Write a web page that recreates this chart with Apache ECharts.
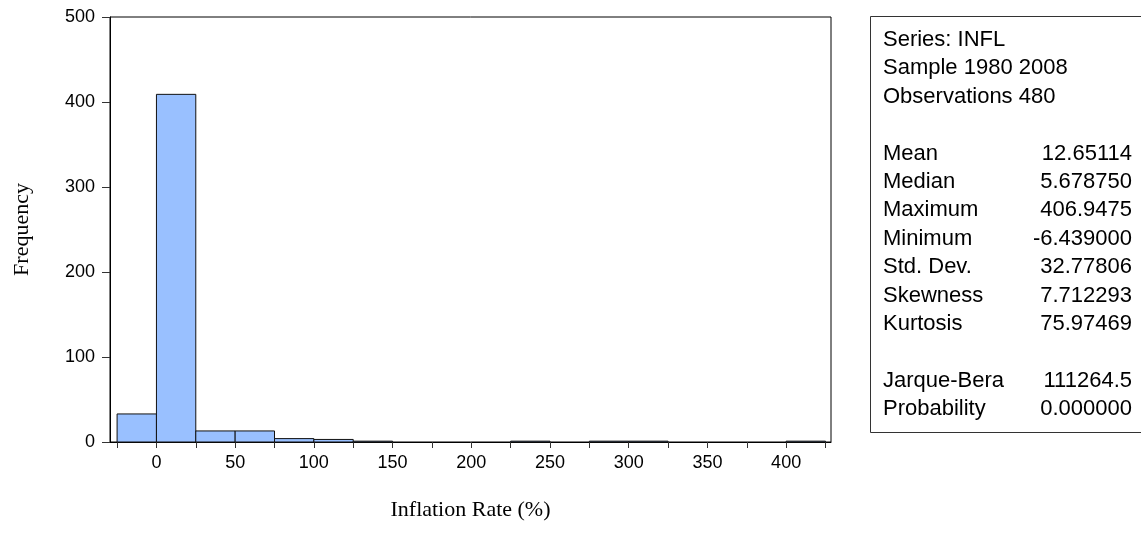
<!DOCTYPE html>
<html><head><meta charset="utf-8">
<script src="https://cdn.jsdelivr.net/npm/echarts@6/dist/echarts.min.js"></script>
<style>html,body{margin:0;padding:0;background:#fff}#c{width:1141px;height:533px}</style>
</head><body><div id="c"></div>
<script>
const binStarts = [-25, 0, 25, 50, 75, 100, 125, 150, 175, 200, 225, 250, 275, 300, 325, 350, 375, 400];
const binWidth = 25;
const counts = [33, 409, 13, 13, 4, 3, 1, 0, 0, 0, 1, 0, 1, 1, 0, 0, 0, 1];
const xTickValues = [-25, 0, 25, 50, 75, 100, 125, 150, 175, 200, 225, 250, 275, 300, 325, 350, 375, 400, 425];
const xLabelValues = [0, 50, 100, 150, 200, 250, 300, 350, 400];
const yTicks = [0, 100, 200, 300, 400, 500];
const headerLines = ['Series: INFL', 'Sample 1980 2008', 'Observations 480'];
const statLabels = ['Mean', 'Median', 'Maximum', 'Minimum', 'Std. Dev.', 'Skewness', 'Kurtosis'];
const statValues = ['12.65114', '5.678750', '406.9475', '-6.439000', '32.77806', '7.712293', '75.97469'];
const testLabels = ['Jarque-Bera', 'Probability'];
const testValues = ['111264.5', '0.000000'];

const data = binStarts.map((s, i) => [s, s + binWidth, counts[i]]);
const chart = echarts.init(document.getElementById('c'), null, {renderer: 'canvas'});
const sans = 'Liberation Sans, Arial, sans-serif';
const serif = 'Liberation Serif, Times New Roman, serif';

const graphics = [];
graphics.push({type: 'rect', shape: {x: 870.5, y: 16.5, width: 290, height: 416}, style: {fill: 'none', stroke: '#333', lineWidth: 1}, z: 10});
const lh = 28.4;
const fs = '22px ' + sans;
let y = 40;
headerLines.forEach(t => { graphics.push({type: 'text', x: 883, y: y, style: {text: t, font: fs, fill: '#000', textVerticalAlign: 'middle'}}); y += lh; });
y = 40 + 4 * lh;
statLabels.forEach((t, i) => {
  graphics.push({type: 'text', x: 883, y: y, style: {text: t, font: fs, fill: '#000', textVerticalAlign: 'middle'}});
  graphics.push({type: 'text', x: 1132, y: y, style: {text: statValues[i], font: fs, fill: '#000', textAlign: 'right', textVerticalAlign: 'middle'}});
  y += lh;
});
y = 40 + 12 * lh;
testLabels.forEach((t, i) => {
  graphics.push({type: 'text', x: 883, y: y, style: {text: t, font: fs, fill: '#000', textVerticalAlign: 'middle'}});
  graphics.push({type: 'text', x: 1132, y: y, style: {text: testValues[i], font: fs, fill: '#000', textAlign: 'right', textVerticalAlign: 'middle'}});
  y += lh;
});

chart.setOption({
  animation: false,
  backgroundColor: '#fff',
  grid: {left: 110, top: 17, right: 310, bottom: 91, show: true, borderColor: '#000', borderWidth: 1, backgroundColor: 'transparent'},
  xAxis: {
    type: 'value', min: -29.5, max: 428.5,
    name: 'Inflation Rate (%)', nameLocation: 'middle', nameGap: 57,
    nameTextStyle: {fontFamily: serif, fontSize: 22, color: '#000'},
    axisLine: {show: true, onZero: false, lineStyle: {color: '#000', width: 1}},
    axisTick: {show: true, length: 6, lineStyle: {color: '#333'}, customValues: xTickValues},
    axisLabel: {customValues: xLabelValues, fontFamily: sans, fontSize: 18, color: '#000', margin: 12},
    splitLine: {show: false}
  },
  yAxis: {
    type: 'value', min: 0, max: 500, interval: 100,
    name: 'Frequency', nameLocation: 'middle', nameGap: 77, nameRotate: 90,
    nameTextStyle: {fontFamily: serif, fontSize: 22, color: '#000'},
    axisLine: {show: true, onZero: false, lineStyle: {color: '#000', width: 1}},
    axisTick: {show: true, length: 8, lineStyle: {color: '#333'}},
    axisLabel: {fontFamily: sans, fontSize: 18, color: '#000', margin: 15},
    splitLine: {show: false}
  },
  series: [{
    type: 'custom',
    data: data,
    renderItem: function (params, api) {
      const c = api.value(2);
      if (!c) return null;
      const p0 = api.coord([api.value(0), 0]);
      const p1 = api.coord([api.value(1), c]);
      return {type: 'rect', shape: {x: p0[0], y: p1[1], width: p1[0] - p0[0], height: p0[1] - p1[1]},
        style: {fill: '#99C0FF', stroke: '#111', lineWidth: 1}};
    },
    encode: {x: [0, 1], y: 2}
  }],
  graphic: graphics
});
</script></body></html>
